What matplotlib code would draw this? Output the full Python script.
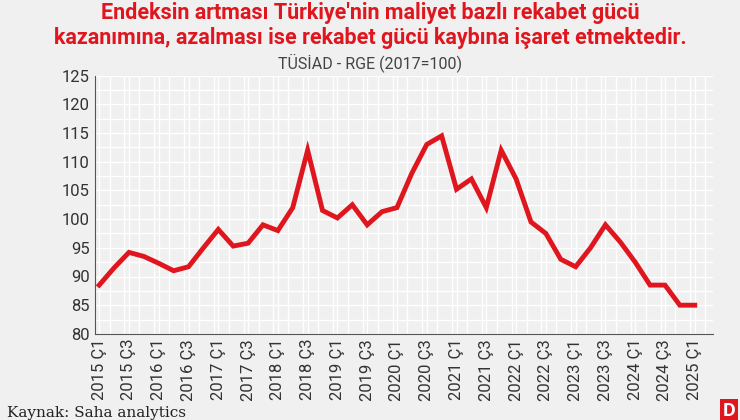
import numpy as np
import matplotlib as mpl
mpl.use('agg')
import matplotlib.pyplot as plt

plt.rcParams['font.family'] = 'Roboto'

years = list(range(2015, 2026))
values = [88.5, 91.5, 94.2, 93.5, 92.3, 91.0, 91.7, 95.0,
          98.2, 95.3, 95.8, 99.0, 98.0, 102.0, 112.0, 101.5,
          100.2, 102.5, 99.0, 101.3, 102.0, 108.0, 113.0, 114.5,
          105.2, 107.0, 102.0, 112.0, 107.0, 99.5, 97.5, 93.0,
          91.7, 95.0, 99.0, 96.0, 92.5, 88.5, 88.5, 85.0, 85.0]
tick_labels = []
for y in years:
    tick_labels += ["%d Ç1" % y, "%d Ç3" % y]
tick_labels = tick_labels[:21]

fig = plt.figure(figsize=(7.4, 4.2), dpi=100)
fig.patch.set_facecolor('#f0f0f0')
ax = fig.add_axes([0.128, 0.205, 0.835, 0.615])
ax.set_facecolor('#f0f0f0')
x = np.arange(len(values))
ax.plot(x, values, color='#e0161e', lw=3.5, solid_joinstyle='miter', zorder=3)
ax.set_xlim(-0.3, 41.2)
ax.set_ylim(80, 125)
ax.set_yticks(range(80, 126, 5))
ax.set_xticks(x[::2])
ax.set_xticklabels(tick_labels, rotation=90, fontsize=12, color='#333333')
ax.set_xticks(np.arange(-0.3, 41.5, 1), minor=True)
ax.set_yticks(np.arange(80, 126, 2.5), minor=True)
ax.grid(which='both', color='white', lw=1.0, zorder=0)
ax.tick_params(which='both', length=0, labelsize=12, colors='#333333')
for s in ['top', 'right']:
    ax.spines[s].set_visible(False)
ax.spines['left'].set_color('#555555')
ax.spines['bottom'].set_color('#555555')

fig.text(0.5, 0.995, "Endeksin artması Türkiye'nin maliyet bazlı rekabet gücü\n"
         "kazanımına, azalması ise rekabet gücü kaybına işaret etmektedir.",
         ha='center', va='top', color='#e0161e', fontsize=15.5,
         fontweight='bold', linespacing=1.15)
fig.text(0.5, 0.828, "TÜSİAD - RGE (2017=100)", ha='center', va='bottom',
         color='#444444', fontsize=11.5)
fig.text(0.01, 0.0, "Kaynak: Saha analytics", ha='left', va='bottom',
         fontsize=11, family='DejaVu Serif', color='#222222')
fig.text(0.985, 0.0, "D", ha='center', va='bottom', color='white',
         fontsize=14, fontweight='bold',
         bbox=dict(boxstyle='square,pad=0.15', fc='#e0161e', ec='none'))
plt.savefig('out.png', facecolor=fig.get_facecolor())
